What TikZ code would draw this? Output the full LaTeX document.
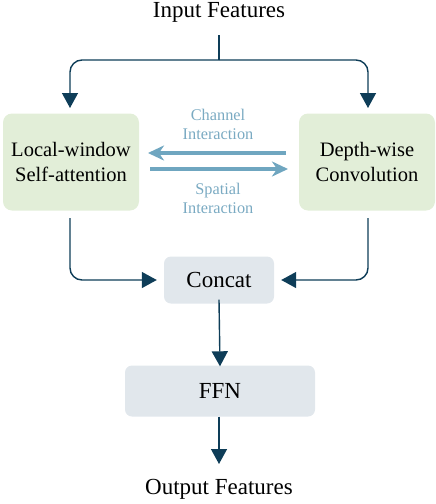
\documentclass[tikz,border=0pt]{standalone}
\usepackage{fontspec}
\setmainfont{Liberation Serif}
\usetikzlibrary{arrows.meta}
\definecolor{navy}{HTML}{0E3D58}
\definecolor{boxgreen}{HTML}{E2EED8}
\definecolor{boxgrey}{HTML}{E1E7EC}
\definecolor{lblue}{HTML}{6FA6C0}
\definecolor{ltext}{HTML}{7AAAC2}
\tikzset{
  mainarrow/.style={navy, line width=1.4pt, rounded corners=12pt, -{Triangle[length=15pt,width=16pt]}},
  mainline/.style={navy, line width=1.4pt},
  sidearrow/.style={lblue, line width=3.2pt, -{Stealth[length=16pt,width=15pt,inset=5pt]}},
  greenbox/.style={fill=boxgreen, rounded corners=9pt, minimum width=136pt, minimum height=97pt, align=center, font=\fontsize{20.5}{25}\selectfont},
  greybox/.style={fill=boxgrey, rounded corners=7pt, align=center, font=\fontsize{23}{27}\selectfont},
  plaintext/.style={inner sep=0pt, font=\fontsize{23}{27}\selectfont},
  lbltext/.style={text=ltext, align=center, font=\fontsize{16.3}{19}\selectfont}
}
\begin{document}
\begin{tikzpicture}[x=1pt,y=-1pt]
\useasboundingbox (0,0) rectangle (436,504);
\node[plaintext] (in) at (219,12) {Input Features};
\node[greenbox] (lw) at (71,162) {Local-window\\Self-attention};
\node[greenbox] (dw) at (367,162) {Depth-wise\\Convolution};
\node[greybox, minimum width=110pt, minimum height=47pt] (cc) at (219,280) {Concat};
\node[greybox, minimum width=190pt, minimum height=51pt] (ffn) at (220,391) {FFN};
\node[plaintext] (out) at (219,489) {Output Features};
\node[lbltext] (ch) at (218,124) {Channel\\Interaction};
\node[lbltext] (sp) at (218,198) {Spatial\\Interaction};
\coordinate (top) at (219,35);
\coordinate (split) at (219,60);
\coordinate (c1s) at (286,153);
\coordinate (c1e) at (148,153);
\coordinate (c2s) at (150,169);
\coordinate (c2e) at (288,169);
\draw[mainline] (top) -- (split);
\draw[mainarrow] (split) -- (70,60) -- (70,108);
\draw[mainarrow] (split) -- (368,60) -- (368,108);
\draw[sidearrow] (c1s) -- (c1e);
\draw[sidearrow] (c2s) -- (c2e);
\draw[mainarrow] (70,218) -- (70,280) -- ([xshift=-7pt]cc.west);
\draw[mainarrow] (368,218) -- (368,280) -- ([xshift=7pt]cc.east);
\draw[mainarrow] ([yshift=4pt]cc.south) -- ([yshift=-1pt]ffn.north);
\draw[mainarrow] ([xshift=-1pt]ffn.south) -- (219,464);
\end{tikzpicture}
\end{document}
